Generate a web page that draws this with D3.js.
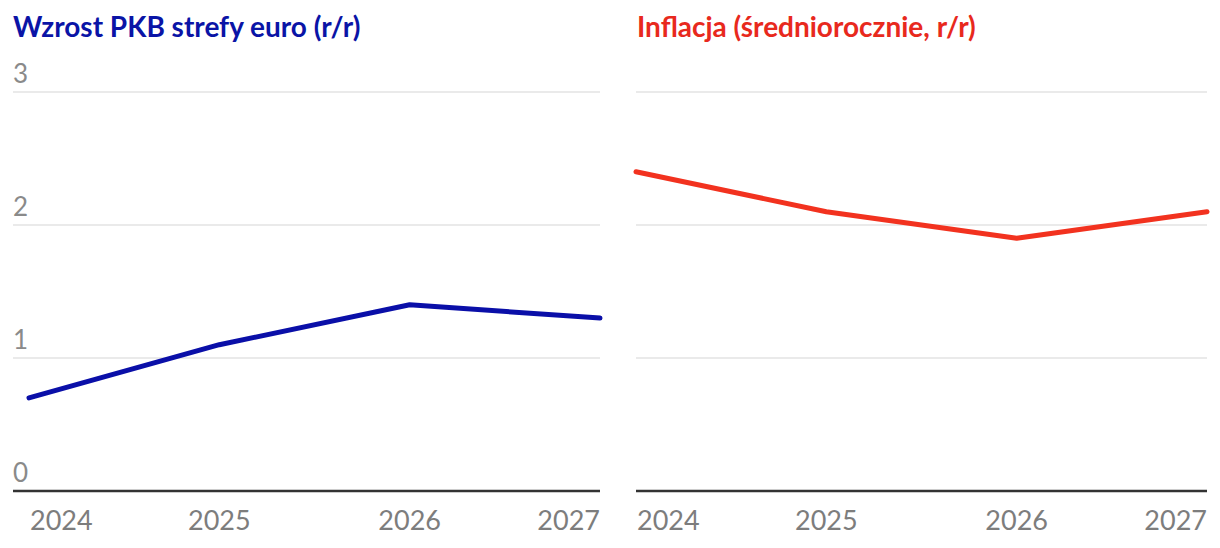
<!DOCTYPE html>
<html>
<head>
<meta charset="utf-8">
<script src="https://cdn.jsdelivr.net/npm/d3@7"></script>
<style>
  body { margin: 0; background: #fff; }
  text { font-family: Lato, "Open Sans", sans-serif; }
</style>
</head>
<body>
<div class="chart"></div>
<script>
// data
var years = ["2024", "2025", "2026", "2027"];
var gdpValues = [0.7, 1.1, 1.4, 1.3];
var inflationValues = [2.4, 2.1, 1.9, 2.1];
var yTicks = [0, 1, 2, 3];

var svgWidth = 1220;
var svgHeight = 548;

var svg = d3.select(".chart")
  .append("svg")
  .attr("width", svgWidth)
  .attr("height", svgHeight);

// shared y scale
var yScale = d3.scaleLinear().domain([0, 3]).range([491, 92]);

var panels = [
  { title: "Wzrost PKB strefy euro (r/r)", values: gdpValues, titleColor: "#0a14a6", lineColor: "#0a0fa8",
    gridLeft: 13, lineLeft: 29, right: 600, showY: true },
  { title: "Inflacja (średniorocznie, r/r)", values: inflationValues, titleColor: "#e8291d", lineColor: "#f2321f",
    gridLeft: 636, lineLeft: 636, right: 1207, showY: false }
];

panels.forEach(function(p) {
  var g = svg.append("g");

  var xScale = d3.scalePoint().domain(years).range([p.lineLeft, p.right]);

  // title
  g.append("text")
    .attr("x", p.gridLeft + (p.showY ? 0 : 1))
    .attr("y", 37)
    .attr("font-size", "28px")
    .attr("font-weight", 700)
    .attr("fill", p.titleColor)
    .text(p.title);

  // gridlines
  g.selectAll(".grid")
    .data(yTicks.filter(function(d) { return d > 0; }))
    .enter()
    .append("line")
    .attr("x1", p.gridLeft)
    .attr("x2", p.right)
    .attr("y1", function(d) { return yScale(d); })
    .attr("y2", function(d) { return yScale(d); })
    .attr("stroke", "#e3e3e3")
    .attr("stroke-width", 1.5);

  // y labels sit above the gridlines
  if (p.showY) {
    g.selectAll(".ylab")
      .data(yTicks)
      .enter()
      .append("text")
      .attr("x", p.gridLeft)
      .attr("y", function(d) { return yScale(d) - 9.5; })
      .attr("font-size", "26px")
      .attr("fill", "#8a8a8a")
      .text(function(d) { return d; });
  }

  // line
  var line = d3.line()
    .x(function(d, i) { return xScale(years[i]); })
    .y(function(d) { return yScale(d); });

  g.append("path")
    .datum(p.values)
    .attr("d", line)
    .attr("fill", "none")
    .attr("stroke", p.lineColor)
    .attr("stroke-width", 5)
    .attr("stroke-linecap", "round")
    .attr("stroke-linejoin", "round");

  // baseline
  g.append("line")
    .attr("x1", p.gridLeft)
    .attr("x2", p.right)
    .attr("y1", yScale(0))
    .attr("y2", yScale(0))
    .attr("stroke", "#333")
    .attr("stroke-width", 2.5);

  // x labels, end labels pulled inward
  g.selectAll(".xlab")
    .data(years)
    .enter()
    .append("text")
    .attr("x", function(d, i) {
      if (i === 0) return xScale(d) + 1;
      return xScale(d);
    })
    .attr("y", 530)
    .attr("font-size", "27px")
    .attr("fill", "#7d7d7d")
    .attr("text-anchor", function(d, i) {
      if (i === 0) return "start";
      if (i === years.length - 1) return "end";
      return "middle";
    })
    .text(function(d) { return d; });
});
</script>
</body>
</html>
